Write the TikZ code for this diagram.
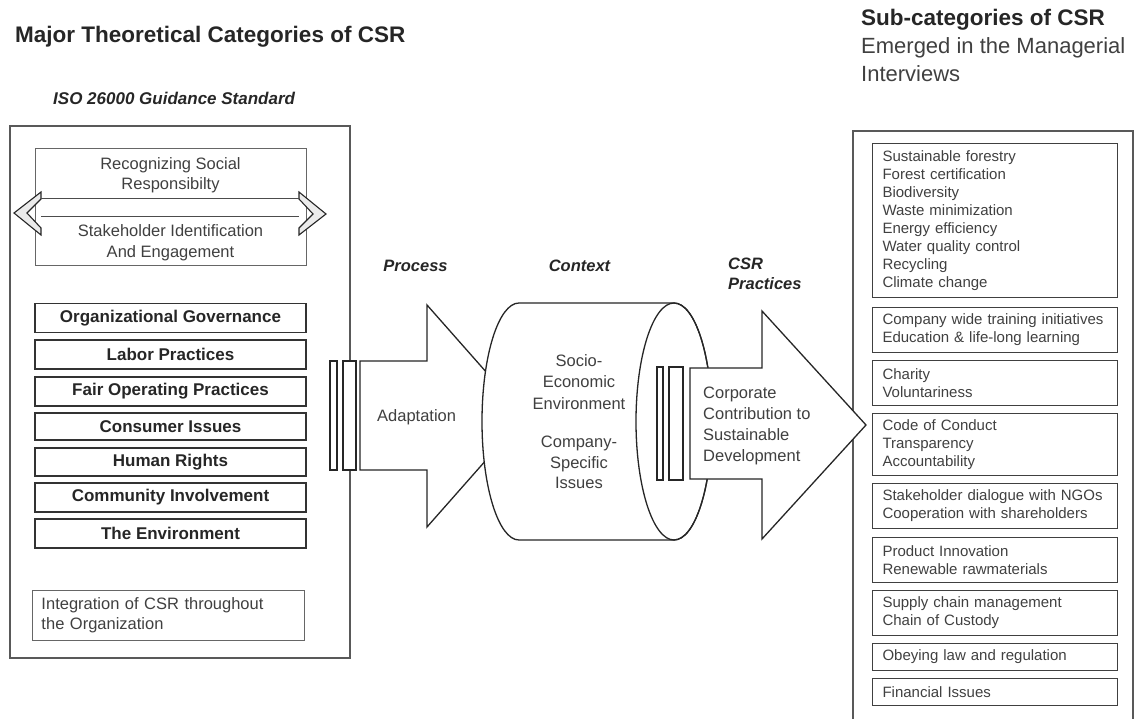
\documentclass[tikz,border=0pt]{standalone}
\usepackage{fontspec}
\setmainfont{Liberation Sans}
\begin{document}
\begin{tikzpicture}[x=1pt,y=-1pt,
  txt/.style={text=black!75, inner sep=0pt},
  headtxt/.style={text=black!85, inner sep=0pt, anchor=base west},
  lbl/.style={text=black!85, inner sep=0pt, font=\fontsize{16.5}{20}\selectfont\bfseries\itshape},
  catbox/.style={draw=black!80, line width=1.3pt, minimum width=271pt, minimum height=29pt,
    inner sep=0pt, font=\fontsize{17}{20}\selectfont\bfseries, text=black!85},
  rbox/.style={draw=black!75, line width=1pt, anchor=north west, text width=225pt,
    inner xsep=10pt, inner ysep=0pt, align=left, font=\fontsize{15}{18}\selectfont, text=black!75},
  frame/.style={draw=black!65, line width=1.2pt},
  blockarrow/.style={draw=black!85, line width=1.3pt, fill=white, line join=miter},
  bar/.style={draw=black!85, line width=1.2pt, fill=white},
  chevron/.style={draw=black!85, line width=1.1pt, fill=black!8, line join=miter},
]
\useasboundingbox (0,0) rectangle (1141,719);

% ---------- headings ----------
\node[headtxt, font=\fontsize{22.5}{26}\selectfont\bfseries] (tleft) at (15,43) {Major Theoretical Categories of CSR};
\node[headtxt, font=\fontsize{17}{20}\selectfont\bfseries\itshape] (iso) at (53,105) {ISO 26000 Guidance Standard};
\node[headtxt, font=\fontsize{22.5}{26}\selectfont\bfseries] (tright) at (861,26) {Sub-categories of CSR};
\node[headtxt, font=\fontsize{22}{26}\selectfont, text=black!75] (tright2) at (861,53.5) {Emerged in the Managerial};
\node[headtxt, font=\fontsize{22}{26}\selectfont, text=black!75] (tright3) at (861,82) {Interviews};

% ---------- left frame: ISO 26000 ----------
\draw[frame] (10,126) rectangle (350,658);

% recognizing / stakeholder box with the two-way arrow
\draw[draw=black!60, line width=1pt] (35,149) rectangle (306,266);
\draw[chevron] (41,192) -- (14,213) -- (41,235) -- (41,228) -- (27,213) -- (41,199) -- cycle;
\draw[chevron] (299,192) -- (326,214) -- (299,235) -- (299,228) -- (313,214) -- (299,199) -- cycle;
\draw[draw=black!70, line width=1pt] (41,199) -- (299,199);
\draw[draw=black!70, line width=1pt] (41,217) -- (299,217);
\node[txt, align=center, font=\fontsize{16.5}{20}\selectfont] (recog) at (170.5,175) {Recognizing Social\\Responsibilty};
\node[txt, align=center, font=\fontsize{16.5}{21}\selectfont] (stake) at (170.5,242.5) {Stakeholder Identification\\And Engagement};

% core subjects
\node[catbox] (og)  at (170.5,318)   {Organizational Governance};
\node[catbox] (lp)  at (170.5,354.5) {Labor Practices};
\node[catbox] (fop) at (170.5,391.5) {Fair Operating Practices};
\node[catbox, minimum height=27pt] (ci) at (170.5,426.5) {Consumer Issues};
\node[catbox, minimum height=28pt] (hr) at (170.5,462) {Human Rights};
\node[catbox] (cin) at (170.5,497.5) {Community Involvement};
\node[catbox] (env) at (170.5,533.5) {The Environment};

\node[draw=black!60, line width=1pt, anchor=north west, minimum width=272pt, minimum height=50pt,
  text width=254pt, inner xsep=9pt, inner ysep=0pt, align=left, text=black!75,
  font=\fontsize{16.5}{20}\selectfont] (integ) at (32,590) {Integration of CSR throughout\\the Organization};

% ---------- process arrow ----------
\draw[blockarrow] (360,361) -- (427,361) -- (427,305) -- (525,416) -- (427,527) -- (427,470) -- (360,470) -- cycle;
\draw[bar] (330,361) rectangle (337,470);
\draw[bar] (343,361) rectangle (356,470);
\node[txt, anchor=west, font=\fontsize{16.5}{20}\selectfont] (adapt) at (377,417) {Adaptation};
\node[lbl] (process) at (415.5,266) {Process};

% ---------- context cylinder ----------
\draw[blockarrow] (519,303) -- (674,303)
  arc[start angle=90, end angle=-90, x radius=38pt, y radius=118.5pt]
  -- (519,540)
  arc[start angle=270, end angle=90, x radius=37pt, y radius=118.5pt] -- cycle;
\draw[draw=black!85, line width=1.3pt] (674,421.5) ellipse[x radius=38pt, y radius=118.5pt];
\node[txt, align=center, font=\fontsize{16.5}{21.5}\selectfont] (socio) at (579,382) {Socio-\\Economic\\Environment};
\node[txt, align=center, font=\fontsize{16.5}{20.5}\selectfont] (comp) at (579,462.5) {Company-\\Specific\\Issues};
\node[lbl] (context) at (579.5,266) {Context};

% ---------- practices arrow ----------
\draw[bar] (657,367) rectangle (663,480);
\draw[bar] (669,367) rectangle (683,480);
\draw[frame] (853,719.5) -- (853,131) -- (1133,131) -- (1133,719.5);
\draw[blockarrow] (690,368) -- (762,368) -- (762,311) -- (866,425) -- (762,539) -- (762,479) -- (690,479) -- cycle;
\node[txt, anchor=west, align=left, font=\fontsize{16.5}{20.7}\selectfont] (corp) at (703,426) {Corporate\\Contribution to\\Sustainable\\Development};
\node[lbl, anchor=west, align=left, font=\fontsize{16.5}{20}\selectfont\bfseries\itshape] (csrp) at (728,274) {CSR\\Practices};

% ---------- right frame: interview sub-categories ----------
\node[rbox, minimum height=154pt] (r1) at (872,143) {Sustainable forestry\\Forest certification\\Biodiversity\\Waste minimization\\Energy efficiency\\Water quality control\\Recycling\\Climate change};
\node[rbox, minimum height=45pt] (r2) at (872,307) {Company wide training initiatives\\Education \& life-long learning};
\node[rbox, minimum height=45pt] (r3) at (872,360) {Charity\\Voluntariness};
\node[rbox, minimum height=62pt] (r4) at (872,413) {Code of Conduct\\Transparency\\Accountability};
\node[rbox, minimum height=45pt] (r5) at (872,483) {Stakeholder dialogue with NGOs\\Cooperation with shareholders};
\node[rbox, minimum height=45pt] (r6) at (872,537) {Product Innovation\\Renewable rawmaterials};
\node[rbox, minimum height=45pt] (r7) at (872,590) {Supply chain management\\Chain of Custody};
\node[rbox, minimum height=27pt] (r8) at (872,643) {Obeying law and regulation};
\node[rbox, minimum height=27pt] (r9) at (872,678) {Financial Issues};
\end{tikzpicture}
\end{document}
